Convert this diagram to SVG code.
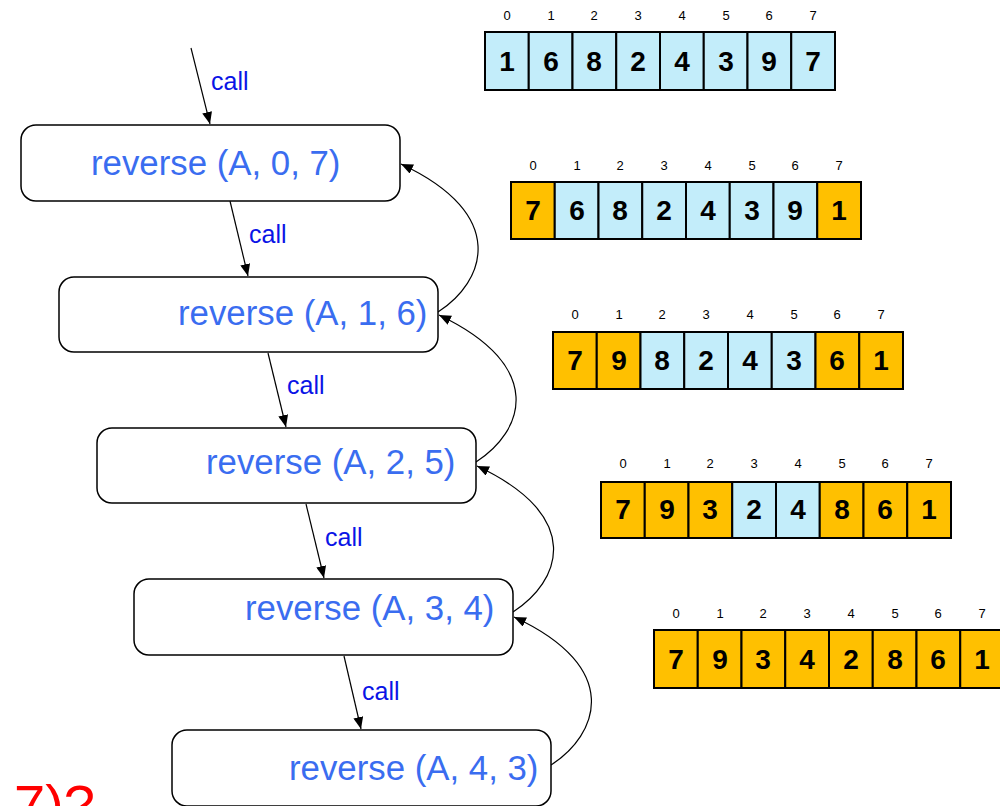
<svg xmlns="http://www.w3.org/2000/svg" width="1000" height="806" viewBox="0 0 1000 806">
<defs>
<marker id="ah" markerWidth="12" markerHeight="10" refX="12" refY="5" orient="auto" markerUnits="userSpaceOnUse">
<path d="M0,0 L12,5 L0,10 Z" fill="#000"/>
</marker>
<style>
.box{fill:#fff;stroke:#000;stroke-width:1.5}
.lbl{font-family:"Liberation Sans",Arial,sans-serif;font-size:34.8px;fill:#3A6DF0}
.call{font-family:"Liberation Sans",Arial,sans-serif;font-size:25px;fill:#0A14E6}
.conn{fill:none;stroke:#000;stroke-width:1.2}
.b{fill:#C3EDFA;stroke:#000;stroke-width:2}
.o{fill:#FFC000;stroke:#000;stroke-width:2}
.num{font-family:"Liberation Sans",Arial,sans-serif;font-size:28px;font-weight:bold;fill:#000;text-anchor:middle}
.idx{font-family:"Liberation Sans",Arial,sans-serif;font-size:13px;fill:#000;text-anchor:middle}
</style>
</defs>
<rect width="1000" height="806" fill="#fff"/>

<g id="connectors">
<line class="conn" x1="191" y1="48" x2="210" y2="124" marker-end="url(#ah)"/>
<line class="conn" x1="230" y1="201" x2="248" y2="276" marker-end="url(#ah)"/>
<line class="conn" x1="268" y1="353" x2="286" y2="427" marker-end="url(#ah)"/>
<line class="conn" x1="306" y1="504" x2="324" y2="578" marker-end="url(#ah)"/>
<line class="conn" x1="344" y1="656" x2="361" y2="729" marker-end="url(#ah)"/>
<path class="conn" d="M438,312 C485,282 510,215 401,164" marker-end="url(#ah)"/>
<path class="conn" d="M476,462 C523,432 548,367 439,315" marker-end="url(#ah)"/>
<path class="conn" d="M513,612 C560,582 586,517 477,466" marker-end="url(#ah)"/>
<path class="conn" d="M551,765 C598,735 624,668 514,617" marker-end="url(#ah)"/>
</g>
<text class="call" x="211" y="90">call</text>
<text class="call" x="249" y="243">call</text>
<text class="call" x="287" y="394">call</text>
<text class="call" x="325" y="546">call</text>
<text class="call" x="362" y="700">call</text>

<g id="n1"><rect class="box" x="21" y="125" width="379" height="76" rx="15"/><text class="lbl" x="91" y="175">reverse (A, 0, 7)</text></g>
<g id="n2"><rect class="box" x="59" y="277" width="379" height="75" rx="15"/><text class="lbl" x="178" y="325">reverse (A, 1, 6)</text></g>
<g id="n3"><rect class="box" x="97" y="428" width="379" height="75" rx="15"/><text class="lbl" x="206" y="474">reverse (A, 2, 5)</text></g>
<g id="n4"><rect class="box" x="134" y="579" width="379" height="76" rx="15"/><text class="lbl" x="245" y="620">reverse (A, 3, 4)</text></g>
<g id="n5"><rect class="box" x="172" y="730" width="379" height="76" rx="15"/><text class="lbl" x="289" y="780">reverse (A, 4, 3)</text></g>

<g id="arr1">
<rect class="b" x="485" y="32" width="43.75" height="58"/><rect class="b" x="528.75" y="32" width="43.75" height="58"/><rect class="b" x="572.5" y="32" width="43.75" height="58"/><rect class="b" x="616.25" y="32" width="43.75" height="58"/><rect class="b" x="660" y="32" width="43.75" height="58"/><rect class="b" x="703.75" y="32" width="43.75" height="58"/><rect class="b" x="747.5" y="32" width="43.75" height="58"/><rect class="b" x="791.25" y="32" width="43.75" height="58"/>
<text class="idx" y="20"><tspan x="507">0</tspan><tspan x="551">1</tspan><tspan x="594">2</tspan><tspan x="638">3</tspan><tspan x="682">4</tspan><tspan x="726">5</tspan><tspan x="769">6</tspan><tspan x="813">7</tspan></text>
<text class="num" y="71"><tspan x="507">1</tspan><tspan x="551">6</tspan><tspan x="594">8</tspan><tspan x="638">2</tspan><tspan x="682">4</tspan><tspan x="726">3</tspan><tspan x="769">9</tspan><tspan x="813">7</tspan></text>
</g>

<g id="arr2">
<rect class="o" x="511" y="182" width="43.75" height="57"/><rect class="b" x="554.75" y="182" width="43.75" height="57"/><rect class="b" x="598.5" y="182" width="43.75" height="57"/><rect class="b" x="642.25" y="182" width="43.75" height="57"/><rect class="b" x="686" y="182" width="43.75" height="57"/><rect class="b" x="729.75" y="182" width="43.75" height="57"/><rect class="b" x="773.5" y="182" width="43.75" height="57"/><rect class="o" x="817.25" y="182" width="43.75" height="57"/>
<text class="idx" y="170"><tspan x="533">0</tspan><tspan x="577">1</tspan><tspan x="620">2</tspan><tspan x="664">3</tspan><tspan x="708">4</tspan><tspan x="752">5</tspan><tspan x="795">6</tspan><tspan x="839">7</tspan></text>
<text class="num" y="220"><tspan x="533">7</tspan><tspan x="577">6</tspan><tspan x="620">8</tspan><tspan x="664">2</tspan><tspan x="708">4</tspan><tspan x="752">3</tspan><tspan x="795">9</tspan><tspan x="839">1</tspan></text>
</g>

<g id="arr3">
<rect class="o" x="553" y="332" width="43.75" height="57"/><rect class="o" x="596.75" y="332" width="43.75" height="57"/><rect class="b" x="640.5" y="332" width="43.75" height="57"/><rect class="b" x="684.25" y="332" width="43.75" height="57"/><rect class="b" x="728" y="332" width="43.75" height="57"/><rect class="b" x="771.75" y="332" width="43.75" height="57"/><rect class="o" x="815.5" y="332" width="43.75" height="57"/><rect class="o" x="859.25" y="332" width="43.75" height="57"/>
<text class="idx" y="319"><tspan x="575">0</tspan><tspan x="619">1</tspan><tspan x="662">2</tspan><tspan x="706">3</tspan><tspan x="750">4</tspan><tspan x="794">5</tspan><tspan x="837">6</tspan><tspan x="881">7</tspan></text>
<text class="num" y="370"><tspan x="575">7</tspan><tspan x="619">9</tspan><tspan x="662">8</tspan><tspan x="706">2</tspan><tspan x="750">4</tspan><tspan x="794">3</tspan><tspan x="837">6</tspan><tspan x="881">1</tspan></text>
</g>

<g id="arr4">
<rect class="o" x="601" y="482" width="43.75" height="56"/><rect class="o" x="644.75" y="482" width="43.75" height="56"/><rect class="o" x="688.5" y="482" width="43.75" height="56"/><rect class="b" x="732.25" y="482" width="43.75" height="56"/><rect class="b" x="776" y="482" width="43.75" height="56"/><rect class="o" x="819.75" y="482" width="43.75" height="56"/><rect class="o" x="863.5" y="482" width="43.75" height="56"/><rect class="o" x="907.25" y="482" width="43.75" height="56"/>
<text class="idx" y="468"><tspan x="623">0</tspan><tspan x="667">1</tspan><tspan x="710">2</tspan><tspan x="754">3</tspan><tspan x="798">4</tspan><tspan x="842">5</tspan><tspan x="885">6</tspan><tspan x="929">7</tspan></text>
<text class="num" y="519"><tspan x="623">7</tspan><tspan x="667">9</tspan><tspan x="710">3</tspan><tspan x="754">2</tspan><tspan x="798">4</tspan><tspan x="842">8</tspan><tspan x="885">6</tspan><tspan x="929">1</tspan></text>
</g>

<g id="arr5">
<rect class="o" x="654" y="630" width="43.75" height="58"/><rect class="o" x="697.75" y="630" width="43.75" height="58"/><rect class="o" x="741.5" y="630" width="43.75" height="58"/><rect class="o" x="785.25" y="630" width="43.75" height="58"/><rect class="o" x="829" y="630" width="43.75" height="58"/><rect class="o" x="872.75" y="630" width="43.75" height="58"/><rect class="o" x="916.5" y="630" width="43.75" height="58"/><rect class="o" x="960.25" y="630" width="43.75" height="58"/>
<text class="idx" y="618"><tspan x="676">0</tspan><tspan x="720">1</tspan><tspan x="763">2</tspan><tspan x="807">3</tspan><tspan x="851">4</tspan><tspan x="895">5</tspan><tspan x="938">6</tspan><tspan x="982">7</tspan></text>
<text class="num" y="669"><tspan x="676">7</tspan><tspan x="720">9</tspan><tspan x="763">3</tspan><tspan x="807">4</tspan><tspan x="851">2</tspan><tspan x="895">8</tspan><tspan x="938">6</tspan><tspan x="982">1</tspan></text>
</g>

<text x="14" y="824" font-family="'Liberation Sans',Arial,sans-serif" font-size="56" fill="#FF0000">7)?</text>
</svg>
